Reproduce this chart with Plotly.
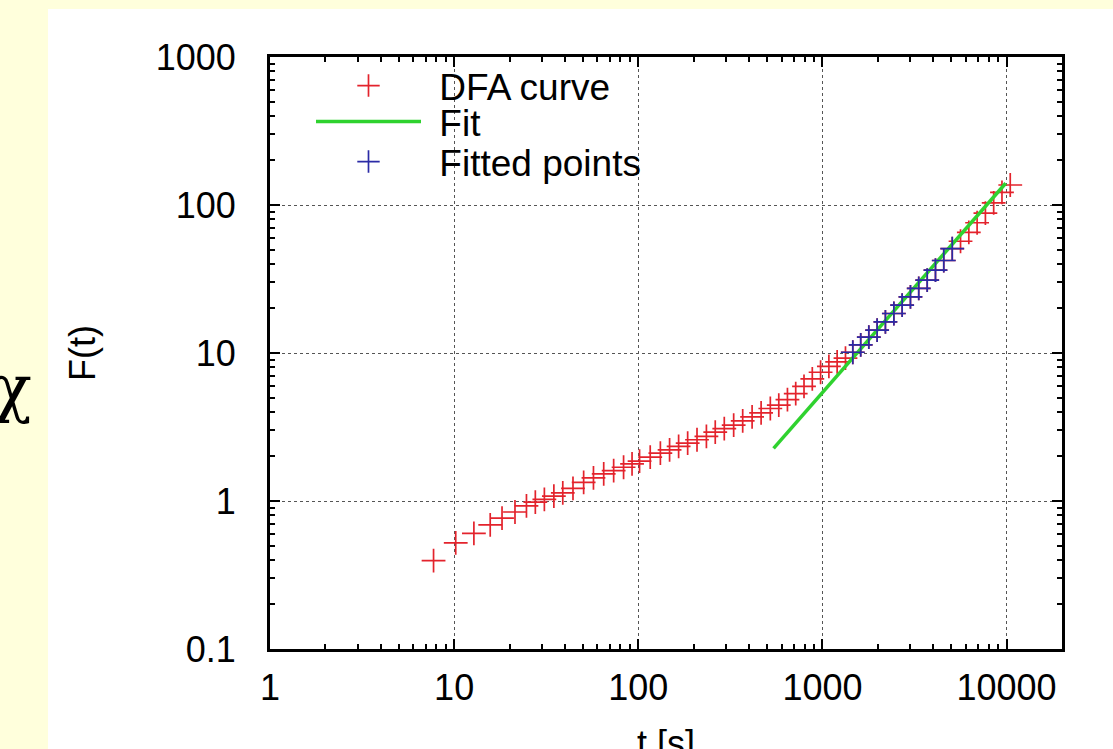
import plotly.graph_objects as go

# DFA fluctuation function F(t) against box length t [s]
t_dfa = [7.73, 10.2, 12.8, 15.7, 18.2, 21.4, 24.7, 27.6, 30.9, 34.8,
         38.9, 44.2, 50.5, 57.1, 64.9, 73.5, 83.2, 92.5, 101.6, 116.1,
         131.8, 147.9, 165.6, 185.4, 208.4, 234.4, 261.8, 293.1, 329.6, 369.0,
         415.0, 464.5, 521.2, 579.4, 645.7, 716.1, 794.3, 881.0, 977.2, 1084,
         1202, 1334, 1462, 1614, 1786, 1982, 2198, 2443, 2710, 3006,
         3334, 3707, 4111, 4560, 5070, 5623, 6237, 6918, 7674, 8511,
         9441, 10471]
F_dfa = [0.396, 0.521, 0.604, 0.690, 0.766, 0.843, 0.927, 0.984, 1.026, 1.079,
         1.135, 1.216, 1.337, 1.432, 1.524, 1.603, 1.690, 1.782, 1.858, 1.977,
         2.104, 2.218, 2.339, 2.460, 2.594, 2.735, 2.924, 3.083, 3.251, 3.475,
         3.698, 3.936, 4.217, 4.446, 4.842, 5.309, 5.957, 6.683, 7.413, 8.128,
         8.710, 9.226, 10.12, 11.35, 12.82, 14.29, 16.22, 18.49, 21.04, 23.93,
         27.29, 31.12, 36.31, 42.17, 50.70, 56.89, 65.31, 75.86, 88.10, 103.5,
         121.6, 136.5]

# points used for the fit
t_fitted = [1462, 1614, 1786, 1982, 2198, 2443, 2710, 3006,
            3334, 3707, 4111, 4560, 5070]
F_fitted = [10.12, 11.35, 12.82, 14.29, 16.22, 18.49, 21.04, 23.93,
            27.29, 31.12, 36.31, 42.17, 50.70]

# power-law fit line (straight in log-log), end points
t_fit = [543, 9890]
F_fit = [2.27, 140.3]

x_ticks = [1, 10, 100, 1000, 10000]
x_ticktext = ["1", "10", "100", "1000", "10000"]
y_ticks = [0.1, 1, 10, 100, 1000]
y_ticktext = ["0.1", "1", "10", "100", "1000"]

RED = "#e3232c"
GREEN = "#2fd22f"
BLUE = "#2b2ba6"
FONT = "Liberation Sans"

W, H = 1113, 749
ML, MR, MT, MB = 270, 51, 57, 100
PW, PH = W - ML - MR, H - MT - MB


def px_x(p):
    return (p - ML) / PW


def px_y(p):
    return (H - MB - p) / PH


minor_x = [m * 10 ** k for k in range(0, 5) for m in range(2, 10)]
minor_y = [m * 10 ** k for k in range(-1, 3) for m in range(2, 10)]

PAD = "\u00a0\u200a"

fig = go.Figure()

fig.add_trace(go.Scatter(
    x=t_dfa, y=F_dfa, mode="markers", name=PAD + "DFA curve",
    marker=dict(symbol="cross-thin", size=17, color=RED,
                line=dict(color=RED, width=1.7)),
    legend="legend"))
fig.add_trace(go.Scatter(
    x=t_fit, y=F_fit, mode="lines", name=PAD + "Fit",
    line=dict(color=GREEN, width=3.5),
    legend="legend2"))
fig.add_trace(go.Scatter(
    x=t_fitted, y=F_fitted, mode="markers", name=PAD + "Fitted points",
    marker=dict(symbol="cross-thin", size=17, color=BLUE,
                line=dict(color=BLUE, width=1.7)),
    legend="legend3"))

legend_common = dict(
    xanchor="left", yanchor="middle", bgcolor="rgba(0,0,0,0)",
    borderwidth=0, itemwidth=105, font=dict(family=FONT, size=37, color="black"),
    itemclick=False, itemdoubleclick=False)

axis_common = dict(
    type="log", showline=True, linecolor="black", linewidth=3, mirror="ticks",
    ticks="inside", ticklen=10, tickwidth=2, tickcolor="black", automargin=False,
    showgrid=True, gridcolor="#555555", gridwidth=1.2, griddash="dot",
    zeroline=False, tickfont=dict(family=FONT, size=36, color="black"),
)

fig.update_layout(
    width=W, height=H,
    margin=dict(l=ML, r=MR, t=MT, b=MB, autoexpand=False),
    paper_bgcolor="#ffffdc", plot_bgcolor="white",
    showlegend=True,
    legend=dict(x=px_x(311), y=px_y(86), **legend_common),
    legend2=dict(x=px_x(311), y=px_y(122), **legend_common),
    legend3=dict(x=px_x(311), y=px_y(162), **legend_common),
    xaxis=dict(
        range=[0, 4.301], tickvals=x_ticks, ticktext=x_ticktext,
        ticklabelstandoff=5,
        minor=dict(tickvals=minor_x, ticks="inside", ticklen=5, tickwidth=1.5,
                   tickcolor="black", showgrid=False),
        **axis_common),
    yaxis=dict(
        range=[-1, 3], tickvals=y_ticks, ticktext=y_ticktext,
        ticklabelstandoff=24,
        minor=dict(tickvals=minor_y, ticks="inside", ticklen=5, tickwidth=1.5,
                   tickcolor="black", showgrid=False),
        title=dict(text="F(t)", font=dict(family=FONT, size=36, color="black"),
                   standoff=50),
        **axis_common),
    shapes=[dict(type="rect", xref="paper", yref="paper", layer="below",
                 x0=px_x(48), x1=px_x(W + 5), y0=px_y(H + 5), y1=px_y(9),
                 fillcolor="white", line=dict(width=0))],
    annotations=[
        dict(text="t [s]", xref="paper", yref="paper",
             x=0.5, y=px_y(743), xanchor="center", yanchor="middle",
             showarrow=False,
             font=dict(family=FONT, size=36, color="black")),
        dict(text="\u03c7", xref="paper", yref="paper",
             x=px_x(12), y=px_y(388), xanchor="center", yanchor="middle",
             showarrow=False,
             font=dict(family="DejaVu Serif", size=64, color="black")),
    ],
)

fig.write_html("out.html")
